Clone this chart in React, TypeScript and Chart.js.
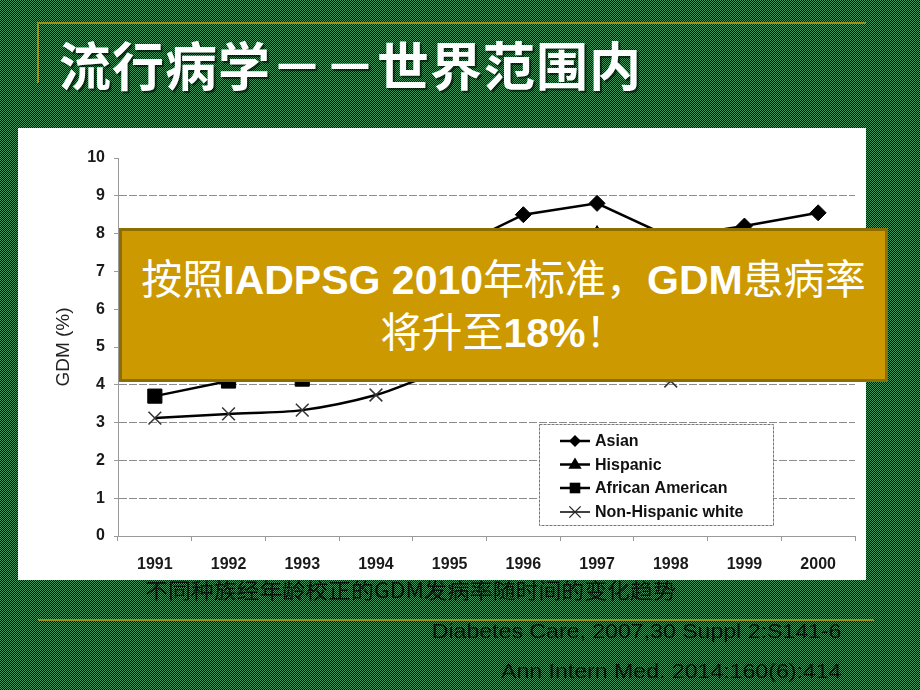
import React, { useEffect, useRef } from 'react';
import { Chart, registerables } from 'chart.js';

Chart.register(...registerables);

// ---- data ----
const years = ['1991', '1992', '1993', '1994', '1995', '1996', '1997', '1998', '1999', '2000'];
const asian = [5.8, 6.2, 6.5, 7.0, 7.55, 8.5, 8.8, 7.9, 8.2, 8.55];
const hispanic = [4.6, 5.0, 5.3, 5.8, 6.4, 7.2, 8.0, 7.2, 7.4, 7.6];
const africanAmerican = [3.7, 4.1, 4.15, 4.5, 5.0, 5.4, 5.6, 5.5, 5.7, 5.9];
const nonHispanicWhite = [3.12, 3.23, 3.33, 3.73, 4.4, 4.5, 4.6, 4.1, 4.6, 4.8];
const seriesLabels = ['Asian', 'Hispanic', 'African American', 'Non-Hispanic white'];
const seriesMarkers = ['rectRot', 'triangle', 'rect', 'crossRot'];
const yAxisTitle = 'GDM (%)';
const yMin = 0;
const yMax = 10;

const slideTitle = '流行病学－－世界范围内';
const caption = '不同种族经年龄校正的GDM发病率随时间的变化趋势';
const refs = ['Diabetes Care, 2007,30 Suppl 2:S141-6', 'Ann Intern Med. 2014:160(6):414'];

function drawMarker(ctx: CanvasRenderingContext2D, style: string, x: number, y: number, r: number) {
  ctx.beginPath();
  if (style === 'rectRot') {
    ctx.moveTo(x, y - r);
    ctx.lineTo(x + r, y);
    ctx.lineTo(x, y + r);
    ctx.lineTo(x - r, y);
    ctx.closePath();
    ctx.fill();
  } else if (style === 'triangle') {
    ctx.moveTo(x, y - r);
    ctx.lineTo(x + r * 0.95, y + r * 0.6);
    ctx.lineTo(x - r * 0.95, y + r * 0.6);
    ctx.closePath();
    ctx.fill();
  } else if (style === 'rect') {
    const s = r * Math.SQRT1_2;
    ctx.rect(x - s, y - s, 2 * s, 2 * s);
    ctx.fill();
  } else {
    const s = r * Math.SQRT1_2;
    ctx.moveTo(x - s, y - s);
    ctx.lineTo(x + s, y + s);
    ctx.moveTo(x + s, y - s);
    ctx.lineTo(x - s, y + s);
    ctx.stroke();
  }
}

const legendPlugin = {
  id: 'boxLegend',
  afterDatasetsDraw(chart: any) {
    const ctx: CanvasRenderingContext2D = chart.ctx;
    const box = { x: 521, y: 296, w: 234, h: 101 };
    ctx.save();
    ctx.fillStyle = '#ffffff';
    ctx.fillRect(box.x, box.y, box.w, box.h);
    ctx.strokeStyle = '#777';
    ctx.lineWidth = 1;
    ctx.setLineDash([3, 1]);
    ctx.strokeRect(box.x + 0.5, box.y + 0.5, box.w, box.h);
    ctx.setLineDash([]);
    const rowY = [313, 336.5, 360, 384];
    const sizes = [6, 7, 7.5, 8];
    chart.data.datasets.forEach((ds: any, i: number) => {
      const y = rowY[i];
      ctx.strokeStyle = '#000';
      ctx.lineWidth = i === 3 ? 1.5 : 2.5;
      ctx.beginPath();
      ctx.moveTo(542, y);
      ctx.lineTo(572, y);
      ctx.stroke();
      ctx.fillStyle = '#000';
      ctx.strokeStyle = '#222';
      ctx.lineWidth = 1.3;
      drawMarker(ctx, seriesMarkers[i], 557, y, sizes[i]);
      ctx.fillStyle = '#111';
      ctx.font = 'bold 16px "Liberation Sans", Arial, sans-serif';
      ctx.textBaseline = 'middle';
      ctx.textAlign = 'left';
      ctx.fillText(ds.label, 577, y + 1);
    });
    ctx.restore();
  },
};

function ChartBox() {
  const ref = useRef<HTMLCanvasElement>(null);
  useEffect(() => {
    if (!ref.current) return;
    const common = { borderColor: '#000', backgroundColor: '#000', borderWidth: 2.5, pointBorderColor: '#000', pointBackgroundColor: '#000', pointBorderWidth: 1, tension: 0 };
    const chart = new Chart(ref.current, {
      type: 'line',
      data: {
        labels: years,
        datasets: [
          { ...common, label: seriesLabels[0], data: asian, pointStyle: 'rectRot', pointRadius: 8 },
          { ...common, label: seriesLabels[1], data: hispanic, pointStyle: 'triangle', pointRadius: 8 },
          { ...common, label: seriesLabels[2], data: africanAmerican, pointStyle: 'rect', pointRadius: 10 },
          { ...common, label: seriesLabels[3], data: nonHispanicWhite, pointStyle: 'crossRot', pointRadius: 9, pointBorderWidth: 1.5, pointBorderColor: '#333', tension: 0.3 },
        ],
      },
      options: {
        animation: false,
        responsive: false,
        events: [],
        layout: { padding: { left: 0, right: 7, top: 30, bottom: 0 } },
        plugins: { legend: { display: false }, tooltip: { enabled: false }, title: { display: false } },
        scales: {
          x: {
            type: 'category',
            offset: true,
            afterFit: (s: any) => { s.height = 44; },
            grid: { offset: true, drawOnChartArea: false, drawTicks: true, tickLength: 5, tickColor: '#999', color: '#999' },
            border: { display: true, color: '#999', width: 1 },
            ticks: { color: '#1a1a1a', padding: 14, font: { family: '"Liberation Sans", Arial, sans-serif', size: 16, weight: 'bold' } },
          },
          y: {
            min: yMin,
            max: yMax,
            afterFit: (s: any) => { s.width = 100; },
            grid: {
              color: (c: any) => (c.tick && c.tick.value > yMin && c.tick.value < yMax ? '#8c8c8c' : 'rgba(0,0,0,0)'),
              tickColor: '#999',
              tickLength: 4,
              borderDash: [8, 2],
            },
            border: { display: true, color: '#999', width: 1, dash: [8, 2] },
            ticks: { stepSize: 1, color: '#1a1a1a', padding: 9, font: { family: '"Liberation Sans", Arial, sans-serif', size: 16, weight: 'bold' } },
            title: { display: true, text: yAxisTitle, color: '#222', padding: { top: 34, bottom: 0 }, font: { family: '"Liberation Sans", Arial, sans-serif', size: 19, weight: 'normal' } },
          },
        },
      } as any,
      plugins: [legendPlugin],
    });
    return () => chart.destroy();
  }, []);
  return <canvas ref={ref} width={848} height={452} style={{ display: 'block' }} />;
}

export default function App() {
  const gold = '#a88a14';
  const latin = { fontFamily: '"Liberation Sans", Arial, sans-serif', fontWeight: 700 } as React.CSSProperties;
  return (
    <div
      style={{
        position: 'fixed',
        left: 0,
        top: 0,
        width: 920,
        height: 690,
        overflow: 'hidden',
        background: 'repeating-conic-gradient(#000 0% 25%, #3a9d5d 0% 50%) 0 0 / 2px 2px',
        fontFamily: '"Noto Sans CJK SC", "Noto Sans", sans-serif',
      }}
    >
      {/* decorative gold rules */}
      <div style={{ position: 'absolute', left: 37, top: 22, width: 829, height: 2, background: gold }} />
      <div style={{ position: 'absolute', left: 37, top: 22, width: 2, height: 61, background: gold }} />
      <div style={{ position: 'absolute', left: 38, top: 619, width: 836, height: 2, background: gold }} />

      {/* title */}
      <div
        style={{
          position: 'absolute',
          left: 59,
          top: 38,
          fontSize: 52,
          lineHeight: '52px',
          fontWeight: 700,
          color: '#fff',
          letterSpacing: 1,
          whiteSpace: 'nowrap',
          textShadow: '2px 2px 1px rgba(0,0,0,0.55)',
        }}
      >
        {slideTitle}
      </div>

      {/* chart panel */}
      <div style={{ position: 'absolute', left: 18, top: 128, width: 848, height: 452, background: '#fff' }}>
        <ChartBox />
      </div>

      {/* overlay callout */}
      <div
        style={{
          position: 'absolute',
          left: 119,
          top: 228,
          width: 769,
          height: 154,
          boxSizing: 'border-box',
          background: '#cc9900',
          border: '3px solid #8c6e00',
          display: 'flex',
          flexDirection: 'column',
          justifyContent: 'center',
          alignItems: 'center',
          color: '#fff',
          fontSize: 41,
          lineHeight: '49px',
          whiteSpace: 'nowrap',
        }}
      >
        <div>
          按照<span style={latin}>IADPSG 2010</span>年标准，<span style={latin}>GDM</span>患病率
        </div>
        <div>
          将升至<span style={latin}>18%</span>！
        </div>
      </div>

      {/* caption */}
      <div
        style={{
          position: 'absolute',
          left: 145,
          top: 579,
          fontSize: 21,
          lineHeight: '21px',
          color: '#111',
          whiteSpace: 'nowrap',
          transform: 'scaleX(1.09)',
          transformOrigin: 'left center',
        }}
      >
        {caption}
      </div>

      {refs.map((t, i) => (
        <div
          key={t}
          style={{
            position: 'absolute',
            right: 920 - 841,
            top: 620 + i * 40,
            fontSize: 21,
            lineHeight: '21px',
            color: '#111',
            whiteSpace: 'nowrap',
            fontFamily: '"Liberation Sans", Arial, sans-serif',
            transform: 'scaleX(1.1)',
            transformOrigin: 'right center',
          }}
        >
          {t}
        </div>
      ))}
    </div>
  );
}
